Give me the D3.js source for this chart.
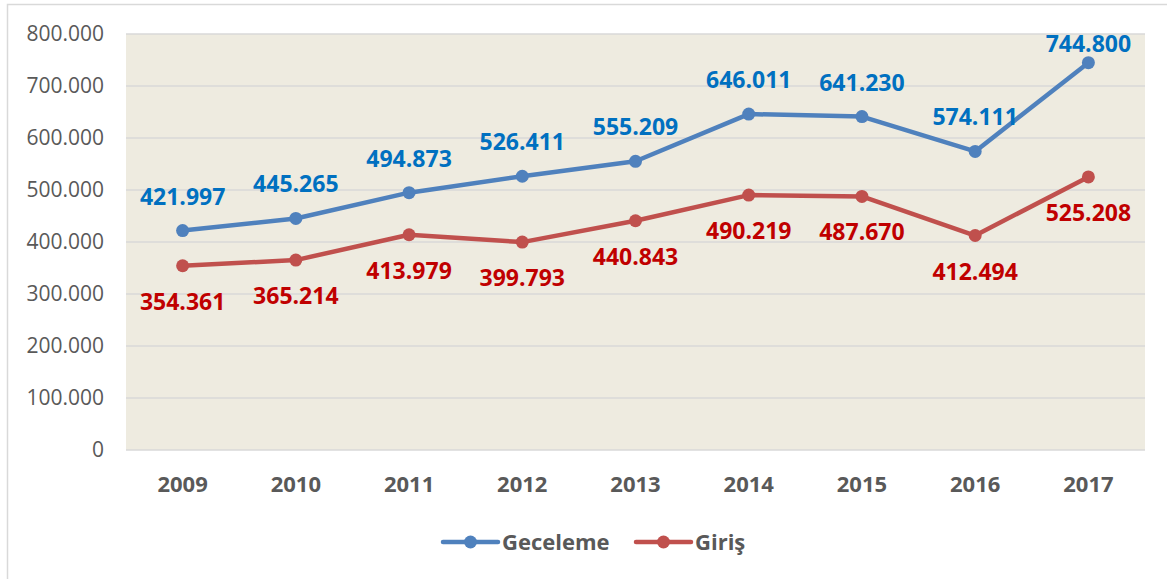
<!DOCTYPE html>
<html>
<head>
<meta charset="utf-8">
<script src="https://cdn.jsdelivr.net/npm/d3@7"></script>
<style>
  body { margin: 0; background: #fff; }
  svg { display: block; }
</style>
</head>
<body>
<div id="chart"></div>
<script>
var years = ["2009", "2010", "2011", "2012", "2013", "2014", "2015", "2016", "2017"];
var geceleme = [421997, 445265, 494873, 526411, 555209, 646011, 641230, 574111, 744800];
var giris = [354361, 365214, 413979, 399793, 440843, 490219, 487670, 412494, 525208];
var yTicks = [0, 100000, 200000, 300000, 400000, 500000, 600000, 700000, 800000];

var W = 1167, H = 579;
var margin = {top: 34, right: 22, bottom: 129, left: 126},
    width = W - margin.left - margin.right,
    height = H - margin.top - margin.bottom;

var fmt = function(v) {
    return v === 0 ? "0" : d3.format(",")(v).replace(/,/g, ".");
};

var svg = d3.select("#chart")
  .append("svg")
    .attr("width", W)
    .attr("height", H);

// outer frame
svg.append("path")
    .attr("d", "M7.5," + H + "V4.5H" + W)
    .attr("fill", "none")
    .attr("stroke", "#d9d9d9")
    .attr("stroke-width", 1.5);

var g = svg.append("g")
    .attr("transform", "translate(" + margin.left + "," + margin.top + ")");

var x = d3.scaleBand()
    .domain(years)
    .range([0, width]);

var y = d3.scaleLinear()
    .domain([0, 800000])
    .range([height, 0]);

g.append("rect")
    .attr("width", width)
    .attr("height", height)
    .attr("fill", "#eeebe0");

// gridlines
g.selectAll(".grid")
    .data(yTicks)
    .enter()
    .append("line")
    .attr("x1", 0)
    .attr("x2", width)
    .attr("y1", d => y(d))
    .attr("y2", d => y(d))
    .attr("stroke", "#d9d9d9")
    .attr("stroke-width", 1.5);

// Y axis
var yAxis = g.append("g")
    .call(d3.axisLeft(y).tickValues(yTicks).tickFormat(fmt).tickSize(0).tickPadding(22));
yAxis.select(".domain").remove();
yAxis.selectAll("text")
    .attr("fill", "#595959")
    .style("font-family", "'Open Sans', sans-serif")
    .style("font-size", "21px");

// X axis
var xAxis = g.append("g")
    .attr("transform", "translate(0," + height + ")")
    .call(d3.axisBottom(x).tickSize(0).tickPadding(26));
xAxis.select(".domain").remove();
xAxis.selectAll("text")
    .attr("fill", "#595959")
    .style("font-family", "'Open Sans', sans-serif")
    .style("font-weight", "bold")
    .style("font-size", "22px");

var series = [
    {name: "Geceleme", values: geceleme, line: "#4f81bd", label: "#0070c0", dy: -26},
    {name: "Giriş", values: giris, line: "#c0504d", label: "#c00000", dy: 44}
];

var cx = d => x(d) + x.bandwidth() / 2;

series.forEach(function(s) {
    var pts = years.map((yr, i) => ({year: yr, v: s.values[i]}));

    g.append("path")
        .datum(pts)
        .attr("fill", "none")
        .attr("stroke", s.line)
        .attr("stroke-width", 4.5)
        .attr("stroke-linejoin", "round")
        .attr("d", d3.line().x(d => cx(d.year)).y(d => y(d.v)));

    g.selectAll(null)
        .data(pts)
        .enter()
        .append("circle")
        .attr("cx", d => cx(d.year))
        .attr("cy", d => y(d.v))
        .attr("r", 6.5)
        .attr("fill", s.line);

    // labels are kept inside the plot area (like excel does)
    g.selectAll(null)
        .data(pts)
        .enter()
        .append("text")
        .attr("x", d => cx(d.year))
        .attr("y", d => Math.max(y(d.v) + s.dy, 18))
        .attr("text-anchor", "middle")
        .attr("fill", s.label)
        .style("font-family", "'Open Sans', sans-serif")
        .style("font-weight", "bold")
        .style("font-size", "23px")
        .text(d => fmt(d.v));
});

// legend
var legend = svg.append("g")
    .attr("transform", "translate(0,542)");
var legX = [443, 636];
series.forEach(function(s, i) {
    var lg = legend.append("g").attr("transform", "translate(" + legX[i] + ",0)");
    lg.append("line")
        .attr("x1", 0).attr("x2", 55)
        .attr("stroke", s.line)
        .attr("stroke-width", 4.5)
        .attr("stroke-linecap", "round");
    lg.append("circle")
        .attr("cx", 27.5)
        .attr("r", 6.5)
        .attr("fill", s.line);
    lg.append("text")
        .attr("x", 59)
        .attr("dy", "0.35em")
        .attr("fill", "#595959")
        .style("font-family", "'Open Sans', sans-serif")
        .style("font-weight", "bold")
        .style("font-size", "22px")
        .text(s.name);
});
</script>
</body>
</html>
